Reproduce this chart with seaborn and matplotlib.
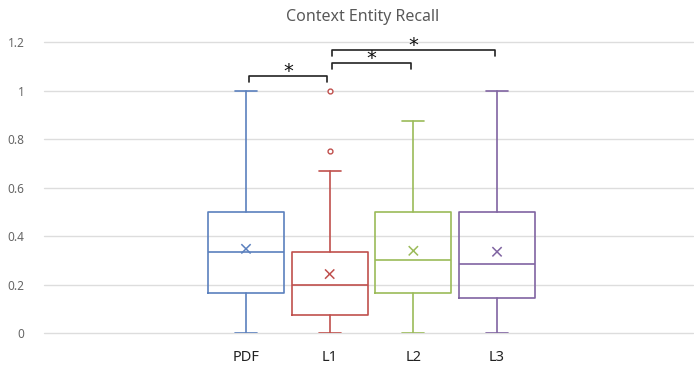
import matplotlib
matplotlib.use("Agg")
import matplotlib.pyplot as plt
import seaborn as sns
import numpy as np
import pandas as pd

# ---- data ----
categories = ["PDF", "L1", "L2", "L3"]
whisker_low = [0.0, 0.0, 0.0, 0.0]
q1 = [0.167, 0.075, 0.167, 0.143]
median = [0.333, 0.2, 0.30, 0.286]
q3 = [0.5, 0.333, 0.5, 0.5]
whisker_high = [1.0, 0.667, 0.875, 1.0]
means = [0.347, 0.243, 0.339, 0.335]
outlier_cat = ["L1", "L1"]
outlier_val = [1.0, 0.75]
sig_pairs = [("PDF", "L1"), ("L1", "L2"), ("L1", "L3")]
sig_heights = [1.06, 1.113, 1.169]
sig_labels = ["*", "*", "*"]
yticks = [0, 0.2, 0.4, 0.6, 0.8, 1.0, 1.2]
ytick_labels = ["0", "0.2", "0.4", "0.6", "0.8", "1", "1.2"]
title = "Context Entity Recall"

colors = ["#5B80BE", "#C0504D", "#9BBB59", "#8064A2"]

sns.set_theme(style="white")
plt.rcParams["font.family"] = ["Noto Sans", "DejaVu Sans"]

fig = plt.figure(figsize=(6.94, 3.65), dpi=100)
ax = fig.add_axes([44 / 694, 1 - 333 / 365, (693 - 44) / 694, (333 - 42) / 365])

pos = {c: i for i, c in enumerate(categories)}

stats = []
for i, c in enumerate(categories):
    stats.append(dict(label=c, whislo=whisker_low[i], q1=q1[i], med=median[i],
                      q3=q3[i], whishi=whisker_high[i], fliers=[]))

bp = ax.bxp(stats, positions=list(range(len(categories))), widths=0.91,
            capwidths=0.26, showfliers=False, patch_artist=False, zorder=3)
for i, c in enumerate(colors):
    for key, n in (("boxes", 1), ("medians", 1), ("whiskers", 2), ("caps", 2)):
        for art in bp[key][i * n:(i + 1) * n]:
            art.set_color(c)
            art.set_linewidth(1.2)

# means
mean_df = pd.DataFrame({"cat": categories, "x": [pos[c] for c in categories], "mean": means})
sns.scatterplot(data=mean_df, x="x", y="mean", hue="cat", palette=colors, marker="x",
                s=45, linewidth=1.1, legend=False, ax=ax, zorder=4)

# outliers
out_df = pd.DataFrame({"cat": outlier_cat, "x": [pos[c] for c in outlier_cat], "val": outlier_val})
for _, r in out_df.iterrows():
    ax.plot(r["x"], r["val"], marker="o", markersize=3.5, markerfacecolor="white",
            markeredgecolor=colors[pos[r["cat"]]], markeredgewidth=1.0, zorder=4,
            linestyle="none")

# significance brackets
tick_h = 0.025
for (a, b), h, lab in zip(sig_pairs, sig_heights, sig_labels):
    xa, xb = pos[a] + 0.03, pos[b] - 0.03
    ax.plot([xa, xa, xb, xb], [h - tick_h, h, h, h - tick_h], color="#222222",
            linewidth=1.2, zorder=5, clip_on=False)
    ax.text((xa + xb) / 2, h - 0.005, lab, ha="center", va="baseline",
            fontsize=14, color="#111111", family=["DejaVu Sans"], zorder=6)

ax.set_xlim(-2.414, 5.342)
ax.set_ylim(0, 1.2)
ax.set_yticks(yticks)
ax.set_yticklabels(ytick_labels)
ax.set_xticks(list(range(len(categories))))
ax.set_xticklabels(categories)
ax.yaxis.grid(True, color="#DDDDDD", linewidth=1.0, zorder=0)
ax.xaxis.grid(False)
ax.set_axisbelow(True)
for gl in ax.get_ygridlines():
    gl.set_clip_on(False)
for s in ax.spines.values():
    s.set_visible(False)
ax.tick_params(axis="y", labelsize=8.5, labelcolor="#666666", length=0, pad=14)
ax.tick_params(axis="x", labelsize=10.5, labelcolor="#222222", length=0, pad=12)
ax.set_xlabel("")
ax.set_ylabel("")
fig.text(363 / 694, 1 - 17 / 365, title, ha="center", va="center",
         fontsize=11.5, color="#595959")

fig.savefig("out.png", dpi=100)
